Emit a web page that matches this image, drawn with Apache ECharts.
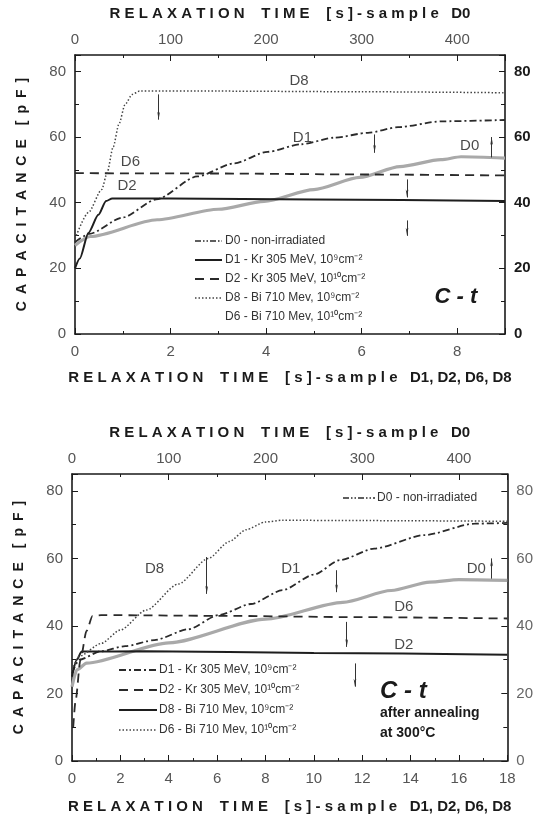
<!DOCTYPE html>
<html>
<head>
<meta charset="utf-8">
<script src="https://cdn.jsdelivr.net/npm/echarts@6/dist/echarts.min.js"></script>
<style>
  html, body { margin: 0; background: #fff; }
  #chart { width: 536px; height: 816px; }
</style>
</head>
<body>
<div id="chart"></div>
<script>
// ---- panel 1: as irradiated. D0 is read on the top axis [s], the rest on the bottom axis [s]
const p1D0 = [[0, 27], [16, 29.7], [86, 34.8], [150, 38], [198, 40.4], [250, 44], [298, 47.7], [340, 51], [383, 53.1], [404, 54], [450, 53.6]];
const p1D1 = [[0, 28], [0.3, 30.5], [1.0, 35.5], [1.7, 41], [2.56, 48], [3.33, 52], [4.03, 55.5], [4.73, 57.8], [5.43, 59.8], [6.13, 61.3], [6.76, 63], [7.67, 64.8], [9, 65.2]];
const p1D2 = [[0, 20], [0.1, 23], [0.28, 30.8], [0.49, 36.3], [0.65, 40.5], [0.78, 41.3], [2, 41.3], [5, 41], [9, 40.5]];
const p1D6 = [[0, 49], [3, 48.9], [6, 48.6], [9, 48.3]];
const p1D8 = [[0, 29], [0.28, 37], [0.56, 44], [0.67, 49], [0.8, 57], [0.92, 64], [1.05, 70], [1.2, 73], [1.35, 74], [3, 74], [6, 73.8], [9, 73.5]];
const p1Labels = [['D8', 4.69, 77], ['D1', 4.76, 59.7], ['D6', 1.16, 52.3], ['D2', 1.09, 45], ['D0', 8.26, 57.2]];
const p1Arrows = [[1.75, 73, 65.3], [6.27, 60.8, 55.2], [6.95, 47.1, 41.6], [6.95, 34.6, 29.9], [8.72, 53.8, 60]];

// ---- panel 2: after annealing at 300 C
const p2D0 = [[0, 22], [5, 27], [15, 29], [100, 35], [200, 42], [280, 47], [330, 50.5], [370, 53], [400, 53.7], [450, 53.5]];
const p2D1 = [[0, 26], [0.3, 30], [1.2, 32.5], [2.2, 34], [3.41, 35.8], [4.8, 39], [6.06, 43.2], [7.4, 46.5], [8.71, 50.6], [10, 55.2], [11.08, 59.5], [12.5, 62.9], [14.57, 66.9], [16.65, 70.3], [18, 70.5]];
const p2D2 = [[0, 25], [0.2, 30], [0.4, 32.4], [3, 32.5], [10, 32], [18, 31.5]];
const p2D6 = [[0.05, 10], [0.15, 18], [0.35, 30], [0.6, 38.5], [0.85, 43], [1.2, 43.2], [6, 43], [12, 42.6], [18, 42.2]];
const p2D8 = [[0, 27], [0.3, 31], [1.2, 34.8], [2.0, 38.8], [3.07, 44.7], [4.39, 52.4], [5.64, 60], [6.5, 65], [7.2, 68.5], [8.0, 70.8], [8.7, 71.3], [12, 71.2], [18, 71]];
const p2Labels = [['D8', 3.41, 57], ['D1', 9.05, 57], ['D0', 16.72, 57], ['D6', 13.72, 45.7], ['D2', 13.72, 34.3]];
const p2Arrows = [[5.57, 60.4, 49.5], [10.94, 56.5, 50], [11.36, 41.2, 33.8], [11.7, 28.9, 22], [17.35, 54, 60]];

const yTicks = [0, 20, 40, 60, 80];
const legend1 = ['D0 - non-irradiated', 'D1 - Kr 305 MeV, 10⁹cm⁻²', 'D2 - Kr 305 MeV, 10¹⁰cm⁻²', 'D8 - Bi 710 Mev, 10⁹cm⁻²', 'D6 - Bi 710 Mev, 10¹⁰cm⁻²'];
const legend2 = ['D1 - Kr 305 MeV, 10⁹cm⁻²', 'D2 - Kr 305 MeV, 10¹⁰cm⁻²', 'D8 - Bi 710 Mev, 10⁹cm⁻²', 'D6 - Bi 710 Mev, 10¹⁰cm⁻²'];

const FONT = '"Liberation Sans", Arial, sans-serif';
const INK = '#1a1a1a';

// spread letters like the scanned figure
function spaced(s) {
  return s.split(' ').map(w => w.split('').join(' ')).join('    ');
}

const styles = {
  grey:    { color: '#a9a9a9', width: 3.2, type: 'solid' },
  solid:   { color: '#1e1e1e', width: 2, type: 'solid' },
  dashed:  { color: '#2a2a2a', width: 1.8, type: [9, 6] },
  dotted:  { color: '#444', width: 1.5, type: [1.5, 2] },
  dashdot: { color: '#2a2a2a', width: 1.8, type: [7, 3, 2, 3] },
  dd:      { color: '#2a2a2a', width: 1.5, type: [6, 2, 1.5, 2, 1.5, 2] }
};

function line(name, data, xi, yi, st) {
  return {
    name, type: 'line', data, xAxisIndex: xi, yAxisIndex: yi,
    showSymbol: false, smooth: 0.25, smoothMonotone: 'x',
    lineStyle: { color: st.color, width: st.width, type: st.type },
    z: st === styles.grey ? 2 : 3
  };
}

function labelSeries(labels, arrows, xi, yi) {
  return {
    type: 'scatter', xAxisIndex: xi, yAxisIndex: yi, symbolSize: 0,
    data: labels.map(l => ({ name: l[0], value: [l[1], l[2]] })),
    label: { show: true, position: 'inside', formatter: '{b}', fontFamily: FONT, fontSize: 15, color: INK },
    markLine: {
      silent: true, symbol: ['none', 'arrow'], symbolSize: [2, 8],
      label: { show: false },
      itemStyle: { color: '#333' },
      lineStyle: { color: '#333', width: 1, type: 'solid' },
      data: arrows.map(a => [{ coord: [a[0], a[1]] }, { coord: [a[0], a[2]] }])
    },
    z: 5
  };
}

function xAxis(gi, position, max, interval, name, nameGap, labelColor) {
  return {
    type: 'value', gridIndex: gi, position, min: 0, max, interval,
    name, nameLocation: 'middle', nameGap,
    nameTextStyle: { fontFamily: FONT, fontSize: 15, fontWeight: 'bold', color: INK },
    axisLine: { show: true, onZero: false, lineStyle: { color: INK, width: 1.6 } },
    axisTick: { show: true, inside: true, length: 6, lineStyle: { color: INK } },
    minorTick: { show: true, splitNumber: 2, length: 3, lineStyle: { color: INK } },
    axisLabel: { fontFamily: FONT, fontSize: 15, color: labelColor, margin: position === 'bottom' ? 10 : 8, showMaxLabel: max % interval === 0 },
    splitLine: { show: false }
  };
}

function yAxis(gi, position, name, labelColor, bold) {
  return {
    type: 'value', gridIndex: gi, position, min: 0, max: 85, interval: 20,
    name, nameLocation: 'middle', nameGap: 46,
    nameTextStyle: { fontFamily: FONT, fontSize: 14, fontWeight: 'bold', color: INK },
    axisLine: { show: true, onZero: false, lineStyle: { color: INK, width: 1.6 } },
    axisTick: { show: true, inside: true, length: 6, lineStyle: { color: INK } },
    minorTick: { show: true, splitNumber: 2, length: 4, lineStyle: { color: INK } },
    axisLabel: { fontFamily: FONT, fontSize: 15, color: labelColor, fontWeight: bold ? 'bold' : 'normal', margin: 9, showMaxLabel: false,
      formatter: v => yTicks.includes(v) ? String(v) : '' },
    splitLine: { show: false }
  };
}

// legend samples and free text (the figure draws its own legend)
function legendRows(texts, samples, x0, x1, tx, y0, dy) {
  const out = [];
  texts.forEach((t, i) => {
    const y = y0 + i * dy;
    const st = samples[i];
    if (st) {
      out.push({ type: 'line', shape: { x1: x0, y1: y, x2: x1, y2: y },
        style: { stroke: st.color, lineWidth: st.width, lineDash: st.type === 'solid' ? null : st.type } });
    }
    out.push({ type: 'text', x: tx, y, style: { text: t, font: '12px ' + FONT, fill: '#333', textVerticalAlign: 'middle' } });
  });
  return out;
}

const yName = 'C\u2002A\u2002P\u2002A\u2002C\u2002I\u2002T\u2002A\u2002N\u2002C\u2002E\u2002\u2002[\u2002p\u2002F\u2002]';
const nameTop = spaced('RELAXATION TIME [s]-sample') + '   D0';
const nameBottom = spaced('RELAXATION TIME [s]-sample') + '   D1, D2, D6, D8';

const graphic = [].concat(
  legendRows(legend1, [styles.dd, styles.solid, styles.dashed, styles.dotted, null], 195, 222, 225, 241, 19),
  legendRows(legend2, [styles.dashdot, styles.dashed, styles.solid, styles.dotted], 119, 157, 159, 670, 20),
  legendRows(['D0 - non-irradiated'], [styles.dd], 343, 375, 377, 498, 20),
  [
    { type: 'text', x: 456, y: 297, style: { text: 'C - t', font: 'italic bold 22px ' + FONT, fill: INK, textAlign: 'center', textVerticalAlign: 'middle' } },
    { type: 'text', x: 380, y: 691, style: { text: 'C - t', font: 'italic bold 24px ' + FONT, fill: INK, textVerticalAlign: 'middle' } },
    { type: 'text', x: 380, y: 713, style: { text: 'after annealing', font: 'bold 14px ' + FONT, fill: INK, textVerticalAlign: 'middle' } },
    { type: 'text', x: 380, y: 733, style: { text: 'at 300°C', font: 'bold 14px ' + FONT, fill: INK, textVerticalAlign: 'middle' } }
  ]
);

const chart = echarts.init(document.getElementById('chart'), null, { renderer: 'canvas' });
chart.setOption({
  backgroundColor: '#fff',
  animation: false,
  grid: [
    { left: 75, top: 55, width: 430, height: 279 },
    { left: 72, top: 474, width: 442, height: 287 }
  ],
  xAxis: [
    xAxis(0, 'bottom', 9, 2, nameBottom, 36, '#555'),
    xAxis(0, 'top', 450, 100, nameTop, 34, '#555'),
    xAxis(1, 'bottom', 18, 2, nameBottom, 38, '#555'),
    xAxis(1, 'top', 450, 100, nameTop, 34, '#555')
  ],
  yAxis: [
    yAxis(0, 'left', yName, '#555', false),
    yAxis(0, 'right', '', INK, true),
    yAxis(1, 'left', yName, '#555', false),
    yAxis(1, 'right', '', '#666', false)
  ],
  series: [
    line('D0', p1D0, 1, 0, styles.grey),
    line('D1', p1D1, 0, 0, styles.dashdot),
    line('D2', p1D2, 0, 0, styles.solid),
    line('D6', p1D6, 0, 0, styles.dashed),
    line('D8', p1D8, 0, 0, styles.dotted),
    labelSeries(p1Labels, p1Arrows, 0, 0),
    line('D0', p2D0, 3, 2, styles.grey),
    line('D1', p2D1, 2, 2, styles.dashdot),
    line('D2', p2D2, 2, 2, styles.solid),
    line('D6', p2D6, 2, 2, styles.dashed),
    line('D8', p2D8, 2, 2, styles.dotted),
    labelSeries(p2Labels, p2Arrows, 2, 2)
  ],
  graphic
});
</script>
</body>
</html>
